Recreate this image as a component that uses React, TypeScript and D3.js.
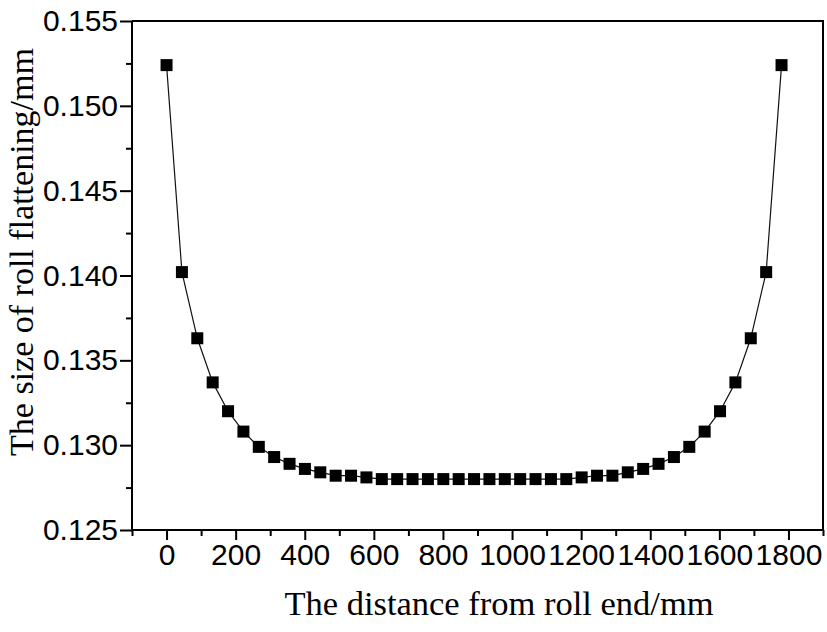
import React, { useEffect, useRef } from "react";
import * as d3 from "d3";

// distance from roll end (mm), 41 sample points
const distance = [
  0, 44.5, 89, 133.5, 178, 222.5, 267, 311.5, 356, 400.5,
  445, 489.5, 534, 578.5, 623, 667.5, 712, 756.5, 801, 845.5,
  890, 934.5, 979, 1023.5, 1068, 1112.5, 1157, 1201.5, 1246, 1290.5,
  1335, 1379.5, 1424, 1468.5, 1513, 1557.5, 1602, 1646.5, 1691, 1735.5,
  1780,
];

// roll flattening (mm)
const flattening = [
  0.1524, 0.1402, 0.1363, 0.1337, 0.132, 0.1308, 0.1299, 0.1293, 0.1289, 0.1286,
  0.1284, 0.1282, 0.1282, 0.1281, 0.128, 0.128, 0.128, 0.128, 0.128, 0.128,
  0.128, 0.128, 0.128, 0.128, 0.128, 0.128, 0.128, 0.1281, 0.1282, 0.1282,
  0.1284, 0.1286, 0.1289, 0.1293, 0.1299, 0.1308, 0.132, 0.1337, 0.1363, 0.1402,
  0.1524,
];

const xTicks = [0, 200, 400, 600, 800, 1000, 1200, 1400, 1600, 1800];
const yTicks = [0.125, 0.13, 0.135, 0.14, 0.145, 0.15, 0.155];

const W = 827;
const H = 632;
const plot = { left: 132, right: 823, top: 21, bottom: 530 };

const App = () => {
  const svgRef = useRef<SVGSVGElement>(null);

  useEffect(() => {
    const svg = d3.select(svgRef.current);
    svg.selectAll("*").remove();

    const x = d3.scaleLinear().domain([-100, 1900]).range([plot.left, plot.right]);
    const y = d3.scaleLinear().domain([0.125, 0.155]).range([plot.bottom, plot.top]);

    const data = distance.map((d, i) => ({ x: d, y: flattening[i] }));

    // frame (top/right lines)
    svg.append("path")
      .attr("d", `M${plot.left},${plot.top}H${plot.right}V${plot.bottom}`)
      .attr("fill", "none")
      .attr("stroke", "#000")
      .attr("stroke-width", 2);

    // x axis
    const xMinor = d3.range(-100, 1901, 100).filter(v => v % 200 !== 0);
    const gx = svg.append("g").attr("transform", `translate(0,${plot.bottom})`);
    gx.append("g")
      .call(d3.axisBottom(x).tickValues(xMinor).tickSize(6).tickFormat(() => ""))
      .call(g => g.select(".domain").remove())
      .selectAll("line").attr("stroke-width", 2);
    gx.append("g")
      .call(d3.axisBottom(x).tickValues(xTicks).tickSize(10).tickSizeOuter(0).tickPadding(4).tickFormat(d3.format("d")))
      .call(g => g.select(".domain").attr("stroke-width", 2).attr("d", `M${plot.left},0H${plot.right}`))
      .call(g => g.selectAll("line").attr("stroke-width", 2))
      .call(g => g.selectAll("text")
        .attr("font-family", "'Liberation Sans', Arial, sans-serif")
        .attr("font-size", 30)
        .attr("fill", "#000"));

    // y axis
    const yMinor = d3.range(0.1275, 0.155, 0.005);
    const gy = svg.append("g").attr("transform", `translate(${plot.left},0)`);
    gy.append("g")
      .call(d3.axisLeft(y).tickValues(yMinor).tickSize(6).tickFormat(() => ""))
      .call(g => g.select(".domain").remove())
      .selectAll("line").attr("stroke-width", 2);
    gy.append("g")
      .call(d3.axisLeft(y).tickValues(yTicks).tickSize(12).tickSizeOuter(0).tickPadding(2).tickFormat(d3.format(".3f")))
      .call(g => g.select(".domain").attr("stroke-width", 2).attr("d", `M0,${plot.top}V${plot.bottom}`))
      .call(g => g.selectAll("line").attr("stroke-width", 2))
      .call(g => g.selectAll("text")
        .attr("font-family", "'Liberation Sans', Arial, sans-serif")
        .attr("font-size", 30)
        .attr("fill", "#000"));

    // line
    const line = d3.line<{ x: number; y: number }>()
      .x(d => x(d.x))
      .y(d => y(d.y));

    svg.append("path")
      .datum(data)
      .attr("d", line)
      .attr("fill", "none")
      .attr("stroke", "#111")
      .attr("stroke-width", 1.2);

    // square markers
    const s = 12;
    svg.append("g")
      .selectAll("rect")
      .data(data)
      .join("rect")
      .attr("x", d => x(d.x) - s / 2)
      .attr("y", d => y(d.y) - s / 2)
      .attr("width", s)
      .attr("height", s)
      .attr("fill", "#000");

    // axis titles
    svg.append("text")
      .attr("x", 499)
      .attr("y", 615)
      .attr("text-anchor", "middle")
      .attr("font-family", "'Liberation Serif', 'Times New Roman', serif")
      .attr("font-size", 34.5)
      .text("The distance from roll end/mm");

    svg.append("text")
      .attr("transform", `translate(33,252) rotate(-90)`)
      .attr("text-anchor", "middle")
      .attr("font-family", "'Liberation Serif', 'Times New Roman', serif")
      .attr("font-size", 34)
      .text("The size of roll flattening/mm");
  }, []);

  return (
    <svg
      ref={svgRef}
      width={W}
      height={H}
      style={{ position: "absolute", left: 0, top: 0, background: "#fff" }}
    />
  );
};

export default App;
